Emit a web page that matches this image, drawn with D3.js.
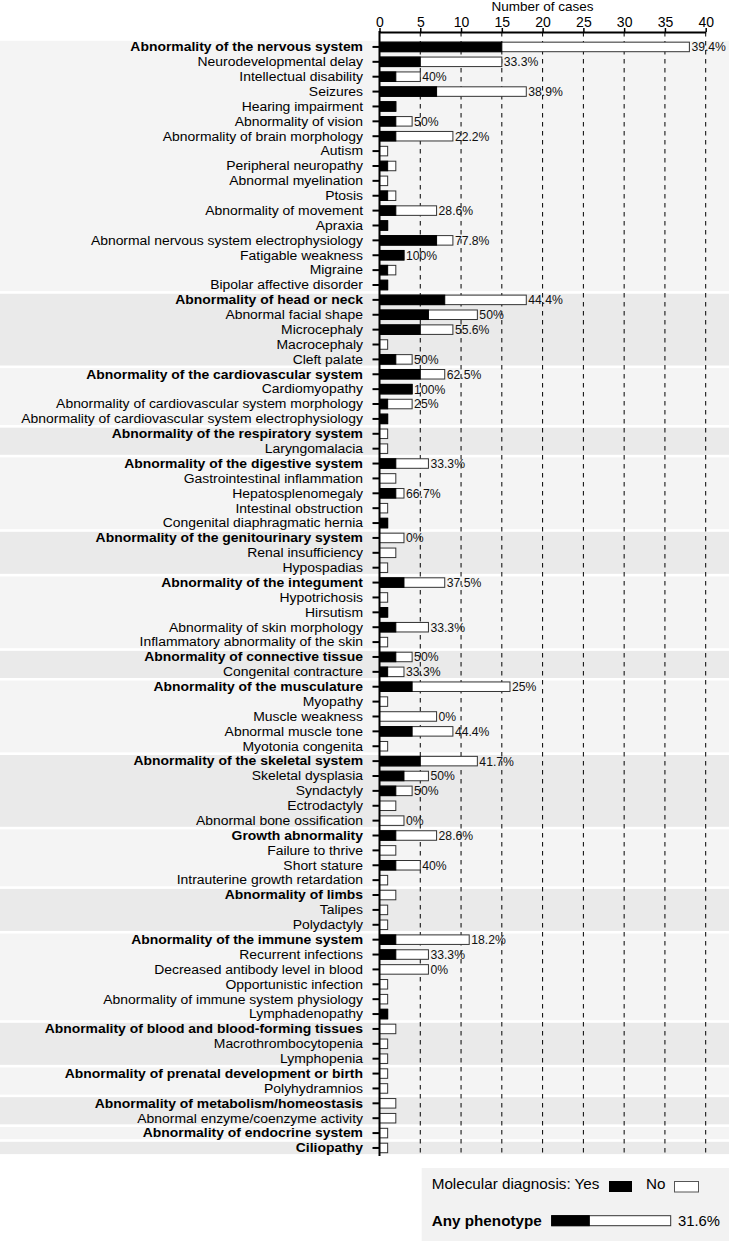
<!DOCTYPE html>
<html>
<head>
<meta charset="utf-8">
<script src="https://cdn.jsdelivr.net/npm/d3@7"></script>
<style>
  html, body { margin: 0; padding: 0; background: #fff; }
  svg { display: block; font-family: "Liberation Sans", Arial, Helvetica, sans-serif; }
</style>
</head>
<body>
<svg id="chart" width="729" height="1241"></svg>
<script>
// ---------------- DATA ----------------
const categories = [
  "Abnormality of the nervous system","Neurodevelopmental delay","Intellectual disability","Seizures",
  "Hearing impairment","Abnormality of vision","Abnormality of brain morphology","Autism",
  "Peripheral neuropathy","Abnormal myelination","Ptosis","Abnormality of movement","Apraxia",
  "Abnormal nervous system electrophysiology","Fatigable weakness","Migraine","Bipolar affective disorder",
  "Abnormality of head or neck","Abnormal facial shape","Microcephaly","Macrocephaly","Cleft palate",
  "Abnormality of the cardiovascular system","Cardiomyopathy","Abnormality of cardiovascular system morphology",
  "Abnormality of cardiovascular system electrophysiology",
  "Abnormality of the respiratory system","Laryngomalacia",
  "Abnormality of the digestive system","Gastrointestinal inflammation","Hepatosplenomegaly",
  "Intestinal obstruction","Congenital diaphragmatic hernia",
  "Abnormality of the genitourinary system","Renal insufficiency","Hypospadias",
  "Abnormality of the integument","Hypotrichosis","Hirsutism","Abnormality of skin morphology",
  "Inflammatory abnormality of the skin",
  "Abnormality of connective tissue","Congenital contracture",
  "Abnormality of the musculature","Myopathy","Muscle weakness","Abnormal muscle tone","Myotonia congenita",
  "Abnormality of the skeletal system","Skeletal dysplasia","Syndactyly","Ectrodactyly","Abnormal bone ossification",
  "Growth abnormality","Failure to thrive","Short stature","Intrauterine growth retardation",
  "Abnormality of limbs","Talipes","Polydactyly",
  "Abnormality of the immune system","Recurrent infections","Decreased antibody level in blood",
  "Opportunistic infection","Abnormality of immune system physiology","Lymphadenopathy",
  "Abnormality of blood and blood-forming tissues","Macrothrombocytopenia","Lymphopenia",
  "Abnormality of prenatal development or birth","Polyhydramnios",
  "Abnormality of metabolism/homeostasis","Abnormal enzyme/coenzyme activity",
  "Abnormality of endocrine system",
  "Ciliopathy"
];
// number of rows in each phenotype group (first row of each group is the group heading)
const groupSizes = [17,5,4,2,5,3,5,2,5,5,4,3,6,3,2,2,1,1];
// cases with a molecular diagnosis (Yes)
const yesCases = [15,5,2,7,2,2,2,0,1,0,1,2,1,7,3,1,1,
  8,6,5,0,2,
  5,4,1,1,
  0,0,
  2,0,2,0,1,
  0,0,0,
  3,0,1,2,0,
  2,1,
  4,0,0,4,0,
  5,3,2,0,0,
  2,0,2,0,
  0,0,0,
  2,2,0,0,0,1,
  0,0,0,
  0,0,
  0,0,
  0,
  0];
// total number of cases
const totalCases = [38,15,5,18,2,4,9,1,2,1,2,7,1,9,3,2,1,
  18,12,9,1,4,
  8,4,4,1,
  1,1,
  6,2,3,1,1,
  3,2,1,
  8,1,1,6,1,
  4,3,
  16,1,7,9,1,
  12,6,4,2,3,
  7,2,5,1,
  2,1,1,
  11,6,6,1,1,1,
  2,1,1,
  1,1,
  2,2,
  1,
  1];
// diagnostic yield labels
const pctLabels = ["39.4%","33.3%","40%","38.9%","","50%","22.2%","","","","","28.6%","","77.8%","100%","","",
  "44.4%","50%","55.6%","","50%",
  "62.5%","100%","25%","",
  "","",
  "33.3%","","66.7%","","",
  "0%","","",
  "37.5%","","","33.3%","",
  "50%","33.3%",
  "25%","","0%","44.4%","",
  "41.7%","50%","50%","","0%",
  "28.6%","","40%","",
  "","","",
  "18.2%","33.3%","0%","","","",
  "","","",
  "","",
  "","",
  "",
  ""];
const xTicks = [0,5,10,15,20,25,30,35,40];
const xTitle = "Number of cases";
const legendTitle = "Molecular diagnosis:";
const legendYes = "Yes";
const legendNo = "No";
const anyPhenotypeLabel = "Any phenotype";
const anyPhenotypeYield = 0.316;
const anyPhenotypeText = "31.6%";

// ---------------- LAYOUT ----------------
const svg = d3.select("#chart");
const W = 729, H = 1241;
const axisY = 32, axisBottom = 1156;
const x = d3.scaleLinear().domain([0, 40]).range([379.5, 705.7]);
const idx = d3.range(categories.length);
const y = d3.scaleBand().domain(idx).range([39.5, 1155.4]).paddingInner(0.36).paddingOuter(0.18);
const step = y.step();
const top0 = y(0) - y.paddingOuter() * step;

// group membership
const isHead = [];
groupSizes.forEach(n => { for (let k = 0; k < n; k++) isHead.push(k === 0); });

// group background bands
const groups = [];
let start = 0;
groupSizes.forEach((n, g) => { groups.push({ g, s: start, e: start + n - 1 }); start += n; });
const gap = 2.6;
svg.append("g").selectAll("rect").data(groups).join("rect")
  .attr("x", 0).attr("width", W)
  .attr("y", d => top0 + d.s * step + gap / 2)
  .attr("height", d => (d.e - d.s + 1) * step - gap)
  .attr("fill", d => d.g % 2 === 0 ? "#f4f4f4" : "#eaeaea");

// dashed grid lines
svg.append("g").selectAll("line").data(xTicks.filter(t => t > 0)).join("line")
  .attr("x1", d => x(d)).attr("x2", d => x(d))
  .attr("y1", axisY).attr("y2", axisBottom)
  .attr("stroke", "#000").attr("stroke-width", 1).attr("stroke-dasharray", "4.5,4.5");

// bars
const bars = svg.append("g");
bars.selectAll("rect.tot").data(idx).join("rect").attr("class", "tot")
  .attr("x", x(0)).attr("width", i => x(totalCases[i]) - x(0))
  .attr("y", i => y(i)).attr("height", y.bandwidth())
  .attr("fill", "#fff").attr("stroke", "#333").attr("stroke-width", 1);
bars.selectAll("rect.yes").data(idx.filter(i => yesCases[i] > 0)).join("rect").attr("class", "yes")
  .attr("x", x(0)).attr("width", i => x(yesCases[i]) - x(0))
  .attr("y", i => y(i)).attr("height", y.bandwidth())
  .attr("fill", "#000").attr("stroke", "#000").attr("stroke-width", 1);

// percentage labels
svg.append("g").selectAll("text").data(idx.filter(i => pctLabels[i] !== "")).join("text")
  .attr("x", i => x(totalCases[i]) + 2)
  .attr("y", i => y(i) + y.bandwidth() / 2)
  .attr("dy", "0.36em")
  .attr("font-size", 12.2).attr("fill", "#111")
  .text(i => pctLabels[i]);

// top axis
const xAxis = d3.axisTop(x).tickValues(xTicks).tickSize(4).tickPadding(1).tickSizeOuter(0);
const gx = svg.append("g").attr("transform", `translate(0,${axisY})`).call(xAxis);
gx.select(".domain").attr("stroke", "#000").attr("stroke-width", 2);
gx.selectAll(".tick line").attr("stroke", "#000").attr("stroke-width", 1.5);
gx.selectAll(".tick text").attr("font-size", 14).attr("fill", "#000")
  .attr("font-family", "'Liberation Sans', Arial, sans-serif");

svg.append("text").attr("x", (x(0) + x(40)) / 2).attr("y", 10.5)
  .attr("text-anchor", "middle").attr("font-size", 13.5).attr("fill", "#000").text(xTitle);

// left axis
const yAxis = d3.axisLeft(y).tickSize(7).tickFormat("").tickSizeOuter(0);
const gy = svg.append("g").attr("transform", `translate(${x(0)},0)`).call(yAxis);
gy.select(".domain").remove();
gy.selectAll(".tick line").attr("stroke", "#000").attr("stroke-width", 2);
svg.append("line").attr("x1", x(0)).attr("x2", x(0)).attr("y1", axisY - 1).attr("y2", axisBottom)
  .attr("stroke", "#000").attr("stroke-width", 2);

// row labels
svg.append("g").selectAll("text").data(idx).join("text")
  .attr("transform", i => `translate(363,${y(i) + y.bandwidth() / 2}) scale(1.16,1)`)
  .attr("dy", "0.36em")
  .attr("text-anchor", "end")
  .attr("font-size", 12)
  .attr("font-weight", i => isHead[i] ? "bold" : "normal")
  .attr("fill", "#000")
  .text(i => categories[i]);

// ---------------- LEGEND ----------------
const lg = svg.append("g");
lg.append("rect").attr("x", 421.7).attr("y", 1168).attr("width", W - 421.7).attr("height", H - 1168)
  .attr("fill", "#f2f2f2");
lg.append("text").attr("transform", "translate(431.7,1188.5) scale(1.09,1)")
  .attr("font-size", 14).attr("fill", "#000").text(legendTitle + " " + legendYes);
lg.append("rect").attr("x", 609).attr("y", 1181).attr("width", 23).attr("height", 11).attr("fill", "#000");
lg.append("text").attr("transform", "translate(646,1188.5) scale(1.09,1)")
  .attr("font-size", 14).attr("fill", "#000").text(legendNo);
lg.append("rect").attr("x", 674.5).attr("y", 1181.5).attr("width", 24).attr("height", 10.5)
  .attr("fill", "#fff").attr("stroke", "#555").attr("stroke-width", 1);
lg.append("text").attr("transform", "translate(431.7,1226) scale(1.09,1)")
  .attr("font-size", 14).attr("font-weight", "bold").attr("fill", "#000").text(anyPhenotypeLabel);
const lx = d3.scaleLinear().domain([0, 1]).range([551.7, 670.7]);
lg.append("rect").attr("x", lx(0)).attr("y", 1215.7).attr("width", lx(1) - lx(0)).attr("height", 10)
  .attr("fill", "#fff").attr("stroke", "#333").attr("stroke-width", 1);
lg.append("rect").attr("x", lx(0)).attr("y", 1215.7).attr("width", lx(anyPhenotypeYield) - lx(0)).attr("height", 10)
  .attr("fill", "#000").attr("stroke", "#000").attr("stroke-width", 1);
lg.append("text").attr("transform", "translate(678,1226) scale(1.06,1)")
  .attr("font-size", 14).attr("fill", "#000").text(anyPhenotypeText);
</script>
</body>
</html>
